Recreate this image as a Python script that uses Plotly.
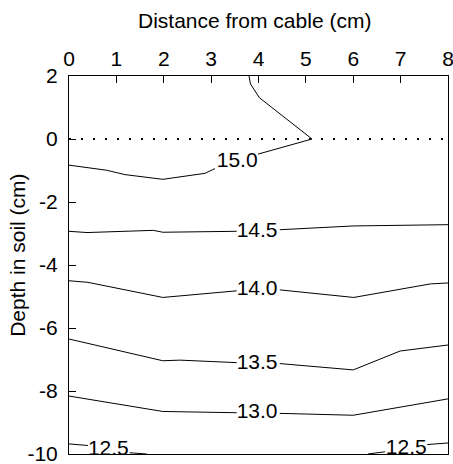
import plotly.graph_objects as go

# Contour lines (x = distance from cable in cm, y = depth in cm); None marks a gap for the label
c150_x = [3.80, 3.83, 4.02, 5.13, 3.99, None, 3.08, 2.87, 1.98, 1.18, 0.79, 0.0]
c150_y = [2.00, 1.75, 1.31, 0.00, -0.48, None, -0.94, -1.09, -1.28, -1.13, -0.99, -0.83]
c145_x = [0.0, 0.38, 1.78, 1.98, 3.54, None, 4.45, 6.00, 8.0]
c145_y = [-2.93, -2.97, -2.90, -2.96, -2.93, None, -2.88, -2.76, -2.72]
c140_x = [0.0, 0.40, 1.98, 3.54, None, 4.45, 6.01, 7.63, 8.0]
c140_y = [-4.50, -4.55, -5.03, -4.82, None, -4.79, -5.03, -4.60, -4.57]
c135_x = [0.0, 1.98, 2.34, 3.54, None, 4.45, 6.00, 6.99, 8.0]
c135_y = [-6.35, -7.04, -7.02, -7.10, None, -7.13, -7.33, -6.73, -6.54]
c130_x = [0.0, 1.98, 3.54, None, 4.45, 6.00, 8.0]
c130_y = [-8.16, -8.65, -8.69, None, -8.71, -8.77, -8.25]
c125a_x = [0.0, 0.40, None, 1.28, 1.64]
c125a_y = [-9.68, -9.73, None, -9.96, -10.0]
c125b_x = [6.31, 6.67, None, 7.56, 8.0]
c125b_y = [-10.0, -9.93, None, -9.70, -9.65]

label_text = ["15.0", "14.5", "14.0", "13.5", "13.0", "12.5", "12.5"]
label_x = [3.55, 3.97, 3.97, 3.97, 3.97, 0.83, 7.12]
label_y = [-0.73, -2.94, -4.80, -7.12, -8.70, -9.88, -9.82]

surface_x = [0, 8]
surface_y = [0, 0]

x_ticks = [0, 1, 2, 3, 4, 5, 6, 7, 8]
x_ticktext = ["0", "1", "2", "3", "4", "5", "6", "7", "8"]
y_ticks = [2, 0, -2, -4, -6, -8, -10]
y_ticktext = ["2", "0", "-2", "-4", "-6", "-8", "-10"]

FONT = "Liberation Sans, Arial, sans-serif"
FS = 21

fig = go.Figure()

fig.add_trace(go.Scatter(x=surface_x, y=surface_y, mode="lines",
                         line=dict(color="black", width=2, dash="2px,10px"),
                         hoverinfo="skip", showlegend=False))

for xs, ys in [(c150_x, c150_y), (c145_x, c145_y), (c140_x, c140_y),
               (c135_x, c135_y), (c130_x, c130_y), (c125a_x, c125a_y),
               (c125b_x, c125b_y)]:
    fig.add_trace(go.Scatter(x=xs, y=ys, mode="lines", connectgaps=False,
                             line=dict(color="black", width=1),
                             hoverinfo="skip", showlegend=False))

fig.add_trace(go.Scatter(x=label_x, y=label_y, mode="text", text=label_text,
                         textposition="middle center",
                         textfont=dict(family=FONT, size=FS, color="black"),
                         hoverinfo="skip", showlegend=False, cliponaxis=False))

axis_common = dict(ticks="inside", ticklen=7, tickwidth=1, tickcolor="black",
                   showgrid=False, zeroline=False, showline=True,
                   linecolor="black", linewidth=1, mirror=True,
                   tickfont=dict(family=FONT, size=FS), fixedrange=True,
                   ticklabeloverflow="allow", automargin=False)

fig.update_layout(
    width=453, height=464,
    margin=dict(l=69, r=5, t=76, b=10),
    paper_bgcolor="white", plot_bgcolor="white",
    font=dict(family=FONT, size=FS, color="black"),
    xaxis=dict(range=[0, 8], side="top", tickvals=x_ticks, ticktext=x_ticktext,
               ticklabelstandoff=1, **axis_common),
    yaxis=dict(range=[-10, 2], tickvals=y_ticks, ticktext=y_ticktext,
               ticklabelstandoff=6, **axis_common),
    annotations=[
        dict(text="Distance from cable (cm)", xref="paper", yref="paper",
             x=0.49, y=1.148, xanchor="center", yanchor="middle", showarrow=False,
             font=dict(family=FONT, size=FS)),
        dict(text="Depth in soil (cm)", xref="paper", yref="paper",
             x=-0.1355, y=0.526, xanchor="center", yanchor="middle", showarrow=False,
             textangle=-90, font=dict(family=FONT, size=FS)),
    ],
)

fig.write_html("out.html")
